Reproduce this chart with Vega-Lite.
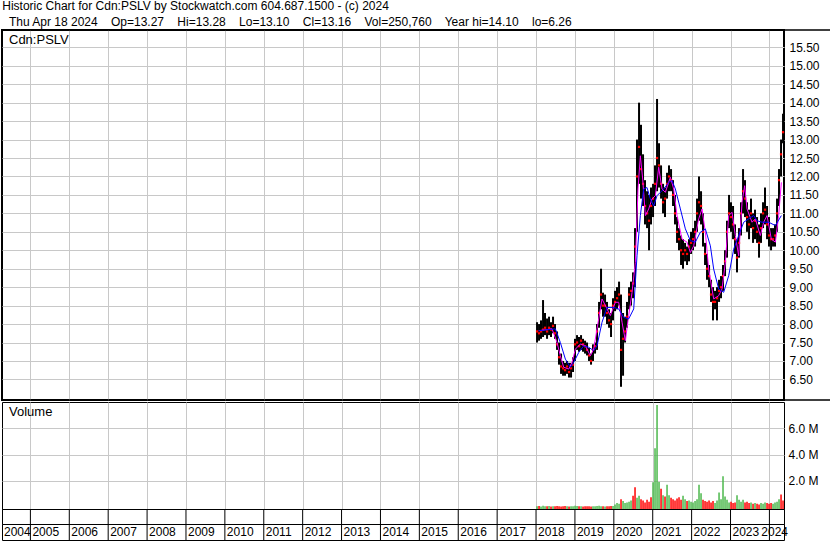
{
  "$schema": "https://vega.github.io/schema/vega-lite/v6.json",
  "padding": 0,
  "background": "white",
  "bounds": "flush",
  "spacing": 2,
  "config": {
    "font": "Liberation Sans",
    "view": {"stroke": "black", "strokeWidth": 1},
    "axis": {"labelFont": "Liberation Sans", "labelFontSize": 12, "labelColor": "black", "gridColor": "#c8c8c8", "gridWidth": 1, "gridOpacity": 1, "domain": false, "ticks": false, "labelOverlap": false},
    "title": {"font": "Liberation Sans", "fontWeight": "normal", "color": "black"}
  },
  "title": {
    "text": "Historic Chart for Cdn:PSLV by Stockwatch.com 604.687.1500 - (c) 2024",
    "subtitle": "\u200b\u00a0\u00a0Thu Apr 18 2024\u00a0\u00a0\u00a0 Op=13.27\u00a0\u00a0\u00a0 Hi=13.28\u00a0\u00a0\u00a0 Lo=13.10\u00a0\u00a0\u00a0 Cl=13.16\u00a0\u00a0\u00a0 Vol=250,760\u00a0\u00a0\u00a0 Year hi=14.10\u00a0\u00a0\u00a0 lo=6.26",
    "anchor": "start",
    "frame": "bounds",
    "fontSize": 12,
    "subtitleFontSize": 12,
    "subtitleFont": "Liberation Sans",
    "subtitleColor": "black",
    "subtitlePadding": 4,
    "offset": -1,
    "dx": 2
  },
  "datasets": {
    "bars": [
      {"year": 2018.026, "hi": 8.05, "lo": 7.5, "close": 7.8, "vol": 0.05, "dir": "up"},
      {"year": 2018.077, "hi": 8.0, "lo": 7.55, "close": 7.75, "vol": 0.08, "dir": "down"},
      {"year": 2018.128, "hi": 8.1, "lo": 7.6, "close": 7.8, "vol": 0.04, "dir": "up"},
      {"year": 2018.180, "hi": 8.65, "lo": 7.65, "close": 7.85, "vol": 0.1, "dir": "up"},
      {"year": 2018.231, "hi": 8.3, "lo": 7.7, "close": 7.9, "vol": 0.06, "dir": "up"},
      {"year": 2018.283, "hi": 8.15, "lo": 7.6, "close": 7.8, "vol": 0.05, "dir": "down"},
      {"year": 2018.334, "hi": 8.2, "lo": 7.7, "close": 7.9, "vol": 0.07, "dir": "up"},
      {"year": 2018.385, "hi": 8.05, "lo": 7.65, "close": 7.85, "vol": 0.04, "dir": "down"},
      {"year": 2018.437, "hi": 8.2, "lo": 7.75, "close": 7.95, "vol": 0.06, "dir": "up"},
      {"year": 2018.488, "hi": 8.0, "lo": 7.6, "close": 7.75, "vol": 0.05, "dir": "down"},
      {"year": 2018.540, "hi": 7.8, "lo": 7.3, "close": 7.45, "vol": 0.08, "dir": "down"},
      {"year": 2018.591, "hi": 7.5, "lo": 6.9, "close": 7.1, "vol": 0.06, "dir": "down"},
      {"year": 2018.643, "hi": 7.2, "lo": 6.65, "close": 6.85, "vol": 0.04, "dir": "down"},
      {"year": 2018.694, "hi": 7.0, "lo": 6.6, "close": 6.8, "vol": 0.05, "dir": "down"},
      {"year": 2018.745, "hi": 6.95, "lo": 6.6, "close": 6.75, "vol": 0.07, "dir": "down"},
      {"year": 2018.797, "hi": 7.0, "lo": 6.65, "close": 6.85, "vol": 0.05, "dir": "up"},
      {"year": 2018.848, "hi": 6.95, "lo": 6.55, "close": 6.7, "vol": 0.04, "dir": "down"},
      {"year": 2018.900, "hi": 6.95, "lo": 6.55, "close": 6.8, "vol": 0.06, "dir": "up"},
      {"year": 2018.951, "hi": 7.1, "lo": 6.7, "close": 6.9, "vol": 0.05, "dir": "up"},
      {"year": 2019.002, "hi": 7.6, "lo": 7.0, "close": 7.45, "vol": 0.1, "dir": "up"},
      {"year": 2019.054, "hi": 7.7, "lo": 7.3, "close": 7.5, "vol": 0.07, "dir": "up"},
      {"year": 2019.105, "hi": 7.65, "lo": 7.25, "close": 7.4, "vol": 0.05, "dir": "down"},
      {"year": 2019.157, "hi": 7.7, "lo": 7.3, "close": 7.55, "vol": 0.06, "dir": "up"},
      {"year": 2019.208, "hi": 7.6, "lo": 7.25, "close": 7.45, "vol": 0.04, "dir": "down"},
      {"year": 2019.260, "hi": 7.55, "lo": 7.2, "close": 7.4, "vol": 0.05, "dir": "down"},
      {"year": 2019.311, "hi": 7.5, "lo": 7.15, "close": 7.3, "vol": 0.06, "dir": "down"},
      {"year": 2019.362, "hi": 7.35, "lo": 7.0, "close": 7.15, "vol": 0.05, "dir": "down"},
      {"year": 2019.414, "hi": 7.2, "lo": 6.9, "close": 7.0, "vol": 0.04, "dir": "down"},
      {"year": 2019.465, "hi": 7.45, "lo": 7.0, "close": 7.3, "vol": 0.05, "dir": "up"},
      {"year": 2019.517, "hi": 7.5, "lo": 7.2, "close": 7.4, "vol": 0.06, "dir": "up"},
      {"year": 2019.568, "hi": 8.0, "lo": 7.3, "close": 7.8, "vol": 0.08, "dir": "up"},
      {"year": 2019.620, "hi": 8.6, "lo": 7.9, "close": 8.3, "vol": 0.1, "dir": "up"},
      {"year": 2019.671, "hi": 9.5, "lo": 8.4, "close": 8.8, "vol": 0.06, "dir": "up"},
      {"year": 2019.722, "hi": 8.85, "lo": 8.2, "close": 8.5, "vol": 0.05, "dir": "down"},
      {"year": 2019.774, "hi": 8.8, "lo": 8.2, "close": 8.5, "vol": 0.04, "dir": "up"},
      {"year": 2019.825, "hi": 8.6, "lo": 8.0, "close": 8.3, "vol": 0.06, "dir": "down"},
      {"year": 2019.877, "hi": 8.4, "lo": 7.9, "close": 8.1, "vol": 0.05, "dir": "down"},
      {"year": 2019.928, "hi": 8.3, "lo": 7.65, "close": 8.0, "vol": 0.07, "dir": "down"},
      {"year": 2019.979, "hi": 8.7, "lo": 8.1, "close": 8.5, "vol": 0.08, "dir": "up"},
      {"year": 2020.031, "hi": 8.9, "lo": 8.35, "close": 8.6, "vol": 0.2, "dir": "up"},
      {"year": 2020.082, "hi": 9.0, "lo": 8.4, "close": 8.7, "vol": 0.3, "dir": "up"},
      {"year": 2020.134, "hi": 9.15, "lo": 8.5, "close": 8.8, "vol": 0.25, "dir": "up"},
      {"year": 2020.185, "hi": 8.8, "lo": 6.3, "close": 7.3, "vol": 0.6, "dir": "down"},
      {"year": 2020.237, "hi": 8.3, "lo": 6.6, "close": 7.6, "vol": 0.45, "dir": "up"},
      {"year": 2020.288, "hi": 8.2, "lo": 7.5, "close": 7.8, "vol": 0.3, "dir": "up"},
      {"year": 2020.339, "hi": 8.6, "lo": 7.9, "close": 8.2, "vol": 0.35, "dir": "up"},
      {"year": 2020.391, "hi": 9.0, "lo": 8.4, "close": 8.8, "vol": 0.4, "dir": "up"},
      {"year": 2020.442, "hi": 9.15, "lo": 8.5, "close": 8.9, "vol": 0.5, "dir": "up"},
      {"year": 2020.494, "hi": 9.4, "lo": 8.7, "close": 9.1, "vol": 0.86, "dir": "down"},
      {"year": 2020.545, "hi": 10.6, "lo": 9.0, "close": 10.1, "vol": 1.5, "dir": "down"},
      {"year": 2020.596, "hi": 13.0, "lo": 10.5, "close": 12.0, "vol": 0.7, "dir": "up"},
      {"year": 2020.648, "hi": 14.0, "lo": 11.8, "close": 12.8, "vol": 0.85, "dir": "up"},
      {"year": 2020.699, "hi": 13.4, "lo": 11.4, "close": 12.2, "vol": 0.6, "dir": "down"},
      {"year": 2020.751, "hi": 12.6, "lo": 11.2, "close": 11.8, "vol": 0.5, "dir": "down"},
      {"year": 2020.802, "hi": 11.9, "lo": 10.7, "close": 11.2, "vol": 0.35, "dir": "down"},
      {"year": 2020.854, "hi": 11.6, "lo": 10.6, "close": 11.0, "vol": 0.55, "dir": "down"},
      {"year": 2020.905, "hi": 11.5, "lo": 10.0, "close": 10.8, "vol": 0.4, "dir": "down"},
      {"year": 2020.956, "hi": 11.7, "lo": 10.7, "close": 11.2, "vol": 0.75, "dir": "down"},
      {"year": 2021.008, "hi": 11.8, "lo": 10.9, "close": 11.4, "vol": 1.88, "dir": "up"},
      {"year": 2021.059, "hi": 12.3, "lo": 11.2, "close": 11.8, "vol": 4.47, "dir": "up"},
      {"year": 2021.111, "hi": 14.1, "lo": 11.6, "close": 12.5, "vol": 7.77, "dir": "up"},
      {"year": 2021.162, "hi": 12.9, "lo": 11.7, "close": 12.3, "vol": 1.9, "dir": "up"},
      {"year": 2021.214, "hi": 12.3, "lo": 11.4, "close": 11.8, "vol": 1.4, "dir": "down"},
      {"year": 2021.265, "hi": 11.8, "lo": 11.0, "close": 11.3, "vol": 0.9, "dir": "up"},
      {"year": 2021.316, "hi": 11.7, "lo": 10.9, "close": 11.4, "vol": 0.8, "dir": "down"},
      {"year": 2021.368, "hi": 12.1, "lo": 11.4, "close": 11.8, "vol": 1.7, "dir": "up"},
      {"year": 2021.419, "hi": 12.3, "lo": 11.6, "close": 12.0, "vol": 0.9, "dir": "up"},
      {"year": 2021.471, "hi": 12.2, "lo": 11.6, "close": 11.9, "vol": 0.7, "dir": "down"},
      {"year": 2021.522, "hi": 11.9, "lo": 11.2, "close": 11.5, "vol": 0.6, "dir": "down"},
      {"year": 2021.573, "hi": 11.5, "lo": 10.7, "close": 11.0, "vol": 0.5, "dir": "down"},
      {"year": 2021.625, "hi": 10.9, "lo": 10.2, "close": 10.5, "vol": 0.65, "dir": "down"},
      {"year": 2021.676, "hi": 10.6, "lo": 10.0, "close": 10.3, "vol": 0.75, "dir": "down"},
      {"year": 2021.728, "hi": 10.4, "lo": 9.6, "close": 10.0, "vol": 0.55, "dir": "down"},
      {"year": 2021.779, "hi": 10.3, "lo": 9.5, "close": 9.9, "vol": 0.85, "dir": "up"},
      {"year": 2021.831, "hi": 10.2, "lo": 9.7, "close": 10.0, "vol": 0.6, "dir": "up"},
      {"year": 2021.882, "hi": 10.1, "lo": 9.6, "close": 9.9, "vol": 0.45, "dir": "down"},
      {"year": 2021.933, "hi": 10.3, "lo": 9.7, "close": 10.1, "vol": 0.5, "dir": "up"},
      {"year": 2021.985, "hi": 10.5, "lo": 9.9, "close": 10.2, "vol": 0.4, "dir": "up"},
      {"year": 2022.036, "hi": 10.6, "lo": 10.0, "close": 10.3, "vol": 0.35, "dir": "up"},
      {"year": 2022.088, "hi": 10.8, "lo": 10.1, "close": 10.5, "vol": 0.45, "dir": "up"},
      {"year": 2022.139, "hi": 11.4, "lo": 10.5, "close": 11.0, "vol": 0.6, "dir": "up"},
      {"year": 2022.190, "hi": 12.0, "lo": 10.8, "close": 11.3, "vol": 1.7, "dir": "up"},
      {"year": 2022.242, "hi": 11.6, "lo": 10.7, "close": 11.2, "vol": 1.05, "dir": "up"},
      {"year": 2022.293, "hi": 11.0, "lo": 10.1, "close": 10.5, "vol": 0.55, "dir": "down"},
      {"year": 2022.345, "hi": 10.2, "lo": 9.6, "close": 9.9, "vol": 0.45, "dir": "down"},
      {"year": 2022.396, "hi": 9.9, "lo": 9.2, "close": 9.5, "vol": 0.4, "dir": "down"},
      {"year": 2022.448, "hi": 9.6, "lo": 9.0, "close": 9.3, "vol": 0.5, "dir": "down"},
      {"year": 2022.499, "hi": 9.2, "lo": 8.6, "close": 8.8, "vol": 0.35, "dir": "down"},
      {"year": 2022.550, "hi": 9.0, "lo": 8.1, "close": 8.6, "vol": 0.45, "dir": "down"},
      {"year": 2022.602, "hi": 8.9, "lo": 8.4, "close": 8.6, "vol": 0.3, "dir": "up"},
      {"year": 2022.653, "hi": 9.0, "lo": 8.1, "close": 8.7, "vol": 0.5, "dir": "up"},
      {"year": 2022.705, "hi": 9.2, "lo": 8.6, "close": 8.9, "vol": 1.1, "dir": "up"},
      {"year": 2022.756, "hi": 9.3, "lo": 8.7, "close": 9.0, "vol": 0.6, "dir": "up"},
      {"year": 2022.807, "hi": 9.6, "lo": 8.9, "close": 9.3, "vol": 2.34, "dir": "up"},
      {"year": 2022.859, "hi": 10.0, "lo": 9.3, "close": 9.7, "vol": 0.8, "dir": "up"},
      {"year": 2022.910, "hi": 10.8, "lo": 9.8, "close": 10.5, "vol": 0.55, "dir": "up"},
      {"year": 2022.962, "hi": 11.5, "lo": 10.6, "close": 11.0, "vol": 0.35, "dir": "up"},
      {"year": 2023.013, "hi": 11.3, "lo": 10.5, "close": 10.9, "vol": 0.4, "dir": "down"},
      {"year": 2023.065, "hi": 11.2, "lo": 10.3, "close": 10.7, "vol": 0.3, "dir": "down"},
      {"year": 2023.116, "hi": 10.7, "lo": 9.9, "close": 10.3, "vol": 0.35, "dir": "down"},
      {"year": 2023.167, "hi": 10.3, "lo": 9.4, "close": 9.8, "vol": 0.9, "dir": "up"},
      {"year": 2023.219, "hi": 10.6, "lo": 9.8, "close": 10.2, "vol": 0.55, "dir": "up"},
      {"year": 2023.270, "hi": 11.3, "lo": 10.4, "close": 11.0, "vol": 0.4, "dir": "up"},
      {"year": 2023.322, "hi": 12.2, "lo": 11.0, "close": 11.6, "vol": 0.55, "dir": "up"},
      {"year": 2023.373, "hi": 11.9, "lo": 10.9, "close": 11.4, "vol": 0.35, "dir": "down"},
      {"year": 2023.424, "hi": 11.3, "lo": 10.5, "close": 10.9, "vol": 0.4, "dir": "down"},
      {"year": 2023.476, "hi": 11.1, "lo": 10.3, "close": 10.7, "vol": 0.3, "dir": "down"},
      {"year": 2023.527, "hi": 11.4, "lo": 10.6, "close": 11.0, "vol": 0.35, "dir": "up"},
      {"year": 2023.579, "hi": 11.0, "lo": 10.2, "close": 10.6, "vol": 0.25, "dir": "down"},
      {"year": 2023.630, "hi": 11.1, "lo": 10.3, "close": 10.8, "vol": 0.3, "dir": "up"},
      {"year": 2023.682, "hi": 10.9, "lo": 10.2, "close": 10.5, "vol": 0.25, "dir": "down"},
      {"year": 2023.733, "hi": 10.7, "lo": 9.8, "close": 10.2, "vol": 0.2, "dir": "down"},
      {"year": 2023.784, "hi": 11.0, "lo": 10.2, "close": 10.6, "vol": 0.3, "dir": "up"},
      {"year": 2023.836, "hi": 11.3, "lo": 10.6, "close": 11.0, "vol": 0.25, "dir": "up"},
      {"year": 2023.887, "hi": 11.7, "lo": 10.7, "close": 11.1, "vol": 0.35, "dir": "up"},
      {"year": 2023.939, "hi": 11.2, "lo": 10.3, "close": 10.7, "vol": 0.3, "dir": "down"},
      {"year": 2023.990, "hi": 10.9, "lo": 10.1, "close": 10.4, "vol": 0.25, "dir": "down"},
      {"year": 2024.042, "hi": 10.6, "lo": 10.0, "close": 10.3, "vol": 0.3, "dir": "down"},
      {"year": 2024.093, "hi": 10.6, "lo": 10.1, "close": 10.3, "vol": 0.25, "dir": "up"},
      {"year": 2024.144, "hi": 10.7, "lo": 10.1, "close": 10.4, "vol": 0.35, "dir": "up"},
      {"year": 2024.196, "hi": 11.4, "lo": 10.5, "close": 11.0, "vol": 0.4, "dir": "up"},
      {"year": 2024.247, "hi": 12.2, "lo": 11.2, "close": 11.9, "vol": 0.6, "dir": "up"},
      {"year": 2024.299, "hi": 13.0, "lo": 12.0, "close": 12.6, "vol": 0.95, "dir": "down"},
      {"year": 2024.350, "hi": 13.7, "lo": 12.9, "close": 13.2, "vol": 0.5, "dir": "down"}
    ],
    "ma_fast": [
      {"year": 2018.069, "value": 7.82}, {"year": 2018.411, "value": 7.87}, {"year": 2018.540, "value": 7.5},
      {"year": 2018.625, "value": 7.14}, {"year": 2018.711, "value": 6.83}, {"year": 2018.840, "value": 6.78},
      {"year": 2018.925, "value": 6.96}, {"year": 2019.011, "value": 7.32}, {"year": 2019.140, "value": 7.46},
      {"year": 2019.268, "value": 7.41}, {"year": 2019.397, "value": 7.14}, {"year": 2019.482, "value": 7.32},
      {"year": 2019.568, "value": 7.87}, {"year": 2019.697, "value": 8.68}, {"year": 2019.825, "value": 8.41},
      {"year": 2019.911, "value": 8.23}, {"year": 2020.039, "value": 8.59}, {"year": 2020.125, "value": 8.59},
      {"year": 2020.211, "value": 8.05}, {"year": 2020.296, "value": 7.55}, {"year": 2020.382, "value": 8.23},
      {"year": 2020.468, "value": 8.86}, {"year": 2020.553, "value": 9.67}, {"year": 2020.622, "value": 11.66},
      {"year": 2020.682, "value": 12.56}, {"year": 2020.742, "value": 11.93}, {"year": 2020.811, "value": 10.94},
      {"year": 2020.896, "value": 11.12}, {"year": 2020.982, "value": 11.39}, {"year": 2021.068, "value": 11.48},
      {"year": 2021.153, "value": 12.25}, {"year": 2021.239, "value": 11.66}, {"year": 2021.325, "value": 11.57},
      {"year": 2021.453, "value": 11.98}, {"year": 2021.539, "value": 11.66}, {"year": 2021.625, "value": 10.94},
      {"year": 2021.753, "value": 10.3}, {"year": 2021.882, "value": 10.22}, {"year": 2021.968, "value": 9.94},
      {"year": 2022.053, "value": 10.12}, {"year": 2022.182, "value": 10.85}, {"year": 2022.267, "value": 11.12},
      {"year": 2022.353, "value": 10.49}, {"year": 2022.439, "value": 9.49}, {"year": 2022.567, "value": 8.68},
      {"year": 2022.696, "value": 8.77}, {"year": 2022.781, "value": 8.95}, {"year": 2022.867, "value": 9.67},
      {"year": 2022.953, "value": 10.94}, {"year": 2023.039, "value": 11.03}, {"year": 2023.124, "value": 10.4},
      {"year": 2023.210, "value": 9.85}, {"year": 2023.296, "value": 11.3}, {"year": 2023.364, "value": 11.75},
      {"year": 2023.424, "value": 11.12}, {"year": 2023.553, "value": 10.76}, {"year": 2023.638, "value": 10.85},
      {"year": 2023.767, "value": 10.4}, {"year": 2023.853, "value": 10.76}, {"year": 2023.938, "value": 10.94},
      {"year": 2024.050, "value": 10.3}, {"year": 2024.153, "value": 10.22}, {"year": 2024.238, "value": 10.94},
      {"year": 2024.307, "value": 11.84}
    ],
    "ma_slow": [
      {"year": 2018.069, "value": 7.82}, {"year": 2018.497, "value": 7.87}, {"year": 2018.625, "value": 7.5},
      {"year": 2018.754, "value": 7.05}, {"year": 2018.883, "value": 6.83}, {"year": 2018.968, "value": 6.96},
      {"year": 2019.097, "value": 7.23}, {"year": 2019.225, "value": 7.41}, {"year": 2019.354, "value": 7.37},
      {"year": 2019.482, "value": 7.28}, {"year": 2019.568, "value": 7.41}, {"year": 2019.697, "value": 8.05},
      {"year": 2019.825, "value": 8.45}, {"year": 2019.997, "value": 8.45}, {"year": 2020.125, "value": 8.41},
      {"year": 2020.254, "value": 8.18}, {"year": 2020.382, "value": 8.14}, {"year": 2020.511, "value": 8.41},
      {"year": 2020.596, "value": 9.85}, {"year": 2020.682, "value": 10.94}, {"year": 2020.768, "value": 11.66},
      {"year": 2020.853, "value": 11.7}, {"year": 2020.939, "value": 11.39}, {"year": 2021.025, "value": 11.2},
      {"year": 2021.111, "value": 11.48}, {"year": 2021.196, "value": 11.57}, {"year": 2021.282, "value": 11.66},
      {"year": 2021.411, "value": 11.84}, {"year": 2021.496, "value": 11.89}, {"year": 2021.582, "value": 11.66},
      {"year": 2021.711, "value": 11.12}, {"year": 2021.839, "value": 10.58}, {"year": 2021.968, "value": 10.26},
      {"year": 2022.096, "value": 10.22}, {"year": 2022.225, "value": 10.49}, {"year": 2022.353, "value": 10.58},
      {"year": 2022.482, "value": 10.12}, {"year": 2022.567, "value": 9.49}, {"year": 2022.696, "value": 8.95},
      {"year": 2022.824, "value": 8.86}, {"year": 2022.953, "value": 9.31}, {"year": 2023.082, "value": 10.03},
      {"year": 2023.210, "value": 10.4}, {"year": 2023.339, "value": 10.76}, {"year": 2023.467, "value": 10.85},
      {"year": 2023.596, "value": 10.94}, {"year": 2023.681, "value": 10.8}, {"year": 2023.810, "value": 10.76},
      {"year": 2023.981, "value": 10.76}, {"year": 2024.153, "value": 10.67}, {"year": 2024.256, "value": 10.85},
      {"year": 2024.307, "value": 10.94}
    ],
    "years": [
      {"year": 2005}, {"year": 2006}, {"year": 2007}, {"year": 2008}, {"year": 2009},
      {"year": 2010}, {"year": 2011}, {"year": 2012}, {"year": 2013}, {"year": 2014},
      {"year": 2015}, {"year": 2016}, {"year": 2017}, {"year": 2018}, {"year": 2019},
      {"year": 2020}, {"year": 2021}, {"year": 2022}, {"year": 2023}, {"year": 2024}
    ],
    "year_labels": [
      {"year": 2004.27, "label": "2004"}, {"year": 2005, "label": "2005"}, {"year": 2006, "label": "2006"},
      {"year": 2007, "label": "2007"}, {"year": 2008, "label": "2008"}, {"year": 2009, "label": "2009"},
      {"year": 2010, "label": "2010"}, {"year": 2011, "label": "2011"}, {"year": 2012, "label": "2012"},
      {"year": 2013, "label": "2013"}, {"year": 2014, "label": "2014"}, {"year": 2015, "label": "2015"},
      {"year": 2016, "label": "2016"}, {"year": 2017, "label": "2017"}, {"year": 2018, "label": "2018"},
      {"year": 2019, "label": "2019"}, {"year": 2020, "label": "2020"}, {"year": 2021, "label": "2021"},
      {"year": 2022, "label": "2022"}, {"year": 2023, "label": "2023"}, {"year": 2024.375, "label": "2024"}
    ]
  },
  "vconcat": [
    {
      "width": 782,
      "height": 370,
      "view": {"stroke": "black", "strokeWidth": 2},
      "title": {"text": "Cdn:PSLV", "anchor": "start", "frame": "group", "fontSize": 13, "offset": -28, "dx": 7, "baseline": "alphabetic"},
      "layer": [
        {
          "data": {"name": "bars"},
          "mark": {"type": "rule", "color": "black", "strokeWidth": 2},
          "encoding": {
            "x": {"field": "year", "type": "quantitative", "scale": {"domain": [2004.27, 2024.375], "nice": false, "zero": false},
                  "axis": {"values": [2005, 2006, 2007, 2008, 2009, 2010, 2011, 2012, 2013, 2014, 2015, 2016, 2017, 2018, 2019, 2020, 2021, 2022, 2023, 2024], "tickCount": 100, "grid": true, "labels": false, "title": null}},
            "y": {"field": "lo", "type": "quantitative", "scale": {"domain": [5.942, 15.969], "nice": false, "zero": false},
                  "axis": {"orient": "right", "values": [6.5, 7, 7.5, 8, 8.5, 9, 9.5, 10, 10.5, 11, 11.5, 12, 12.5, 13, 13.5, 14, 14.5, 15, 15.5], "tickCount": 100, "format": ".2f", "labelPadding": 5, "labelOverlap": false, "labelSeparation": 0, "labelBound": false, "grid": true, "title": null}},
            "y2": {"field": "hi"}
          }
        },
        {
          "data": {"name": "bars"},
          "mark": {"type": "square", "color": "#ff0000", "size": 5, "filled": true, "opacity": 1},
          "encoding": {
            "x": {"field": "year", "type": "quantitative", "title": null},
            "y": {"field": "close", "type": "quantitative", "title": null}
          }
        },
        {
          "data": {"name": "ma_fast"},
          "mark": {"type": "line", "color": "#ff00ff", "strokeWidth": 1},
          "encoding": {
            "x": {"field": "year", "type": "quantitative", "title": null},
            "y": {"field": "value", "type": "quantitative", "title": null}
          }
        },
        {
          "data": {"name": "ma_slow"},
          "mark": {"type": "line", "color": "#0000ff", "strokeWidth": 1},
          "encoding": {
            "x": {"field": "year", "type": "quantitative", "title": null},
            "y": {"field": "value", "type": "quantitative", "title": null}
          }
        },
        {
          "data": {"values": [{"edge": "top", "level": 15.969}, {"edge": "bottom", "level": 5.942}]},
          "mark": {"type": "rule", "color": "black", "strokeWidth": 1.5},
          "encoding": {
            "x": {"datum": 2004.27},
            "x2": {"datum": 2025.62},
            "y": {"field": "level", "type": "quantitative", "title": null}
          }
        }
      ]
    },
    {
      "bounds": "flush",
      "spacing": 0,
      "vconcat": [
        {
          "width": 782,
          "height": 107,
          "view": {"stroke": "black", "strokeWidth": 1},
          "title": {"text": "Volume", "anchor": "start", "frame": "group", "fontSize": 13, "offset": -27, "dx": 7, "baseline": "alphabetic"},
          "data": {"name": "bars"},
          "mark": {"type": "rule", "strokeWidth": 1.5},
          "encoding": {
            "x": {"field": "year", "type": "quantitative", "scale": {"domain": [2004.27, 2024.375], "nice": false, "zero": false},
                  "axis": {"values": [2005, 2006, 2007, 2008, 2009, 2010, 2011, 2012, 2013, 2014, 2015, 2016, 2017, 2018, 2019, 2020, 2021, 2022, 2023, 2024], "tickCount": 100, "grid": true, "labels": false, "title": null}},
            "y": {"field": "vol", "type": "quantitative", "scale": {"domain": [-0.15, 8.0], "nice": false, "zero": false},
                  "axis": {"orient": "right", "values": [2, 4, 6], "tickCount": 100, "labelExpr": "format(datum.value, '.1f') + ' M'", "labelPadding": 4, "grid": true, "title": null}},
            "y2": {"datum": -0.15},
            "color": {"field": "dir", "type": "nominal", "scale": {"domain": ["down", "up"], "range": ["#ff0000", "#4cb84c"]}, "legend": null}
          }
        },
        {
          "width": 782,
          "height": 15,
          "view": {"stroke": "black", "strokeWidth": 1},
          "data": {"name": "years"},
          "mark": {"type": "rule", "color": "black", "strokeWidth": 1},
          "encoding": {
            "x": {"field": "year", "type": "quantitative", "scale": {"domain": [2004.27, 2024.375], "nice": false, "zero": false}, "axis": null}
          }
        },
        {
          "width": 782,
          "height": 16,
          "view": {"stroke": "black", "strokeWidth": 1},
          "layer": [
            {
              "data": {"name": "years"},
              "mark": {"type": "rule", "color": "black", "strokeWidth": 1},
              "encoding": {
                "x": {"field": "year", "type": "quantitative", "scale": {"domain": [2004.27, 2024.375], "nice": false, "zero": false}, "axis": null}
              }
            },
            {
              "data": {"name": "year_labels"},
              "transform": [{"filter": "datum.label != '2024'"}],
              "mark": {"type": "text", "align": "left", "baseline": "middle", "dx": 2, "fontSize": 12, "color": "black", "font": "Liberation Sans"},
              "encoding": {
                "x": {"field": "year", "type": "quantitative"},
                "text": {"field": "label"}
              }
            },
            {
              "data": {"name": "year_labels"},
              "transform": [{"filter": "datum.label == '2024'"}],
              "mark": {"type": "text", "align": "right", "baseline": "middle", "dx": 4, "fontSize": 12, "color": "black", "font": "Liberation Sans"},
              "encoding": {
                "x": {"field": "year", "type": "quantitative"},
                "text": {"field": "label"}
              }
            }
          ]
        }
      ]
    }
  ]
}
